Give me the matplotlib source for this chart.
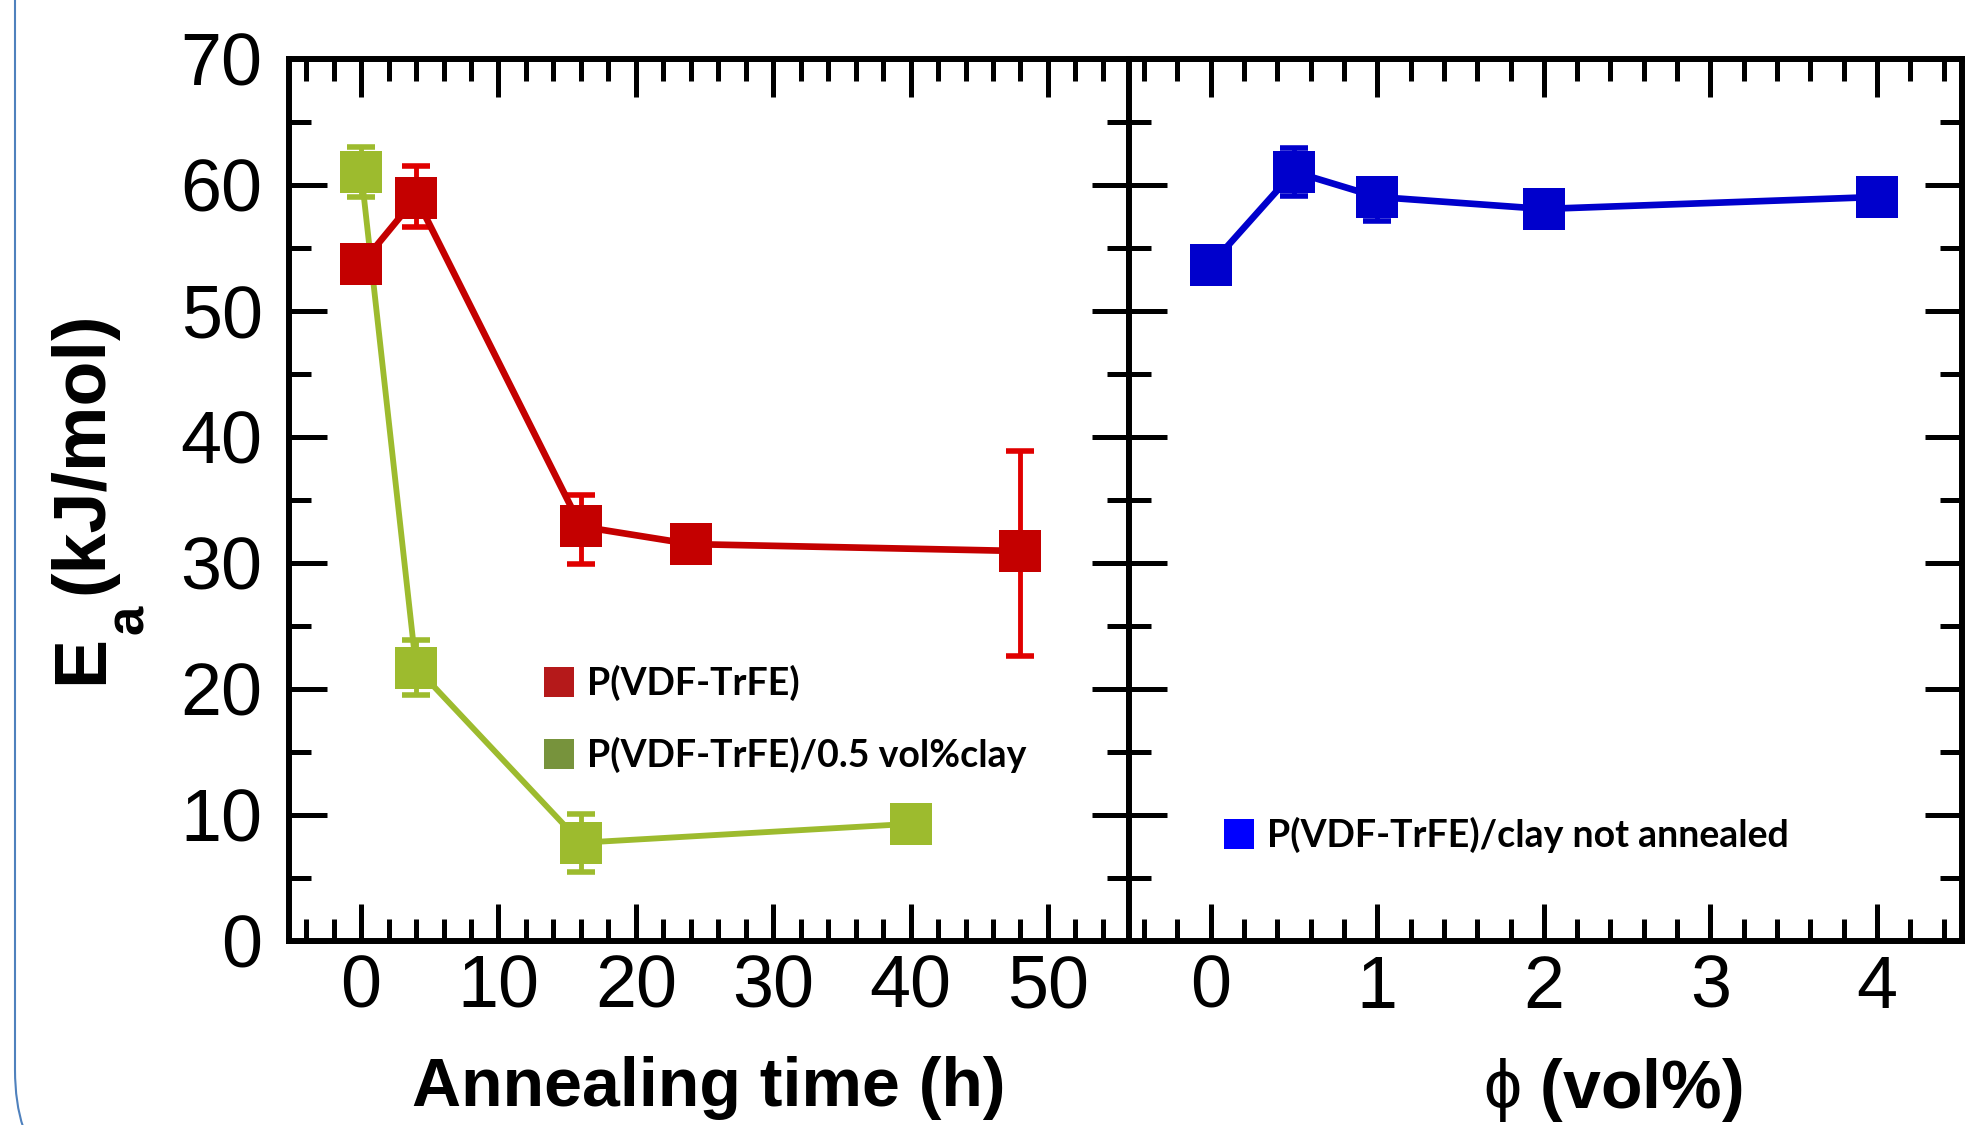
import matplotlib.pyplot as plt
from matplotlib.lines import Line2D
from matplotlib.patches import FancyBboxPatch
from matplotlib.ticker import MultipleLocator
from matplotlib.transforms import IdentityTransform
from matplotlib.font_manager import FontProperties

plt.rcParams['font.family'] = ['Liberation Sans', 'DejaVu Sans']
plt.rcParams['mathtext.fontset'] = 'custom'
plt.rcParams['mathtext.it'] = 'Liberation Sans'
plt.rcParams['mathtext.rm'] = 'Liberation Sans'

# left panel: activation energy vs annealing time
time_neat = [0, 4, 16, 24, 48]
ea_neat = [53.7, 59.0, 32.9, 31.5, 30.95]
err_neat_lo = [0, 2.3, 2.95, 0, 8.3]
err_neat_hi = [0, 2.5, 2.5, 0, 7.95]

time_clay = [0, 4, 16, 40]
ea_clay = [61.05, 21.7, 7.8, 9.3]
err_clay = [2.0, 2.2, 2.3, 0]

# right panel: activation energy vs clay content, not annealed
phi = [0, 0.5, 1, 2, 4]
ea_phi = [53.65, 61.05, 59.05, 58.1, 59.05]
err_phi_lo = [0, 1.9, 1.9, 0, 0]
err_phi_hi = [0, 1.9, 0, 0, 0]

labels_left = ['P(VDF-TrFE)', 'P(VDF-TrFE)/0.5 vol%clay']
label_right = 'P(VDF-TrFE)/clay not annealed'

RED, RED_BAR, RED_LEG = '#C40000', '#E00000', '#B5191A'
GREEN, GREEN_LEG = '#9DBB2E', '#77933C'
BLUE, BLUE_LEG = '#0000CC', '#0000FF'

fig = plt.figure(figsize=(19.72, 11.25), dpi=100)
W, H = 1972, 1125
ax1 = fig.add_axes([289 / W, 1 - 941 / H, (1129 - 289) / W, (941 - 59) / H])
ax2 = fig.add_axes([1129 / W, 1 - 941 / H, (1962 - 1129) / W, (941 - 59) / H])

# green first so the red markers sit on top of it
ax1.errorbar(time_clay, ea_clay, yerr=err_clay, fmt='none', ecolor=GREEN,
             elinewidth=3.5, capsize=10, capthick=4, zorder=2)
ax1.plot(time_clay, ea_clay, '-s', color=GREEN, lw=4.2, ms=30, mew=0, zorder=3)
ax1.errorbar(time_neat, ea_neat, yerr=[err_neat_lo, err_neat_hi], fmt='none',
             ecolor=RED_BAR, elinewidth=3.5, capsize=10, capthick=4, zorder=4)
ax1.plot(time_neat, ea_neat, '-s', color=RED, lw=4.8, ms=30, mew=0, zorder=5)

ax2.errorbar(phi, ea_phi, yerr=[err_phi_lo, err_phi_hi], fmt='none', ecolor=BLUE,
             elinewidth=3.5, capsize=10, capthick=4, zorder=2)
ax2.plot(phi, ea_phi, '-s', color=BLUE, lw=4.8, ms=30, mew=0, zorder=3)

ax1.set_xlim(-5.25, 55.9)
ax2.set_xlim(-0.49, 4.51)
for ax in (ax1, ax2):
    ax.set_ylim(0, 70)
    ax.yaxis.set_major_locator(MultipleLocator(10))
    ax.yaxis.set_minor_locator(MultipleLocator(5))
    for s in ax.spines.values():
        s.set_linewidth(4.3)
    ax.tick_params(which='both', direction='in', top=True, right=True, width=3.6)
    ax.tick_params(which='major', length=27, labelsize=53)
    ax.tick_params(which='minor', length=16)
    ax.tick_params(axis='x', pad=9)
    ax.tick_params(axis='y', pad=19)
ax1.xaxis.set_major_locator(MultipleLocator(10))
ax1.xaxis.set_minor_locator(MultipleLocator(2))
ax2.xaxis.set_major_locator(MultipleLocator(1))
ax2.xaxis.set_minor_locator(MultipleLocator(0.2))
ax2.tick_params(labelleft=False)

lab_font = dict(fontsize=49, fontweight='bold')
ax1.set_xlabel('Annealing time (h)', labelpad=24, **lab_font)
ax2.set_xlabel(r'$\phi$ (vol%)', labelpad=24, x=0.581, **lab_font)

# y label: E with a large, well-dropped subscript a
ylab = dict(rotation=90, rotation_mode='anchor', ha='left', va='baseline',
            fontweight='bold')
fig.text(102 / W, 1 - 684 / H, 'E', fontsize=53, **ylab)
fig.text(143 / W, 1 - 634 / H, 'a', fontsize=38, **ylab)
fig.text(102 / W, 1 - 594 / H, '(kJ/mol)', fontsize=53, **ylab)

leg_font = FontProperties(family=['Lato', 'DejaVu Sans'], weight='bold', size=27)
h_left = [Line2D([], [], ls='', marker='s', ms=22, mew=0, color=c)
          for c in (RED_LEG, GREEN_LEG)]
ax1.legend(h_left, labels_left, loc='upper left', bbox_to_anchor=(0.299, 0.313),
           frameon=False, borderpad=0, borderaxespad=0, handlelength=1.0,
           handletextpad=0.25, labelspacing=0.95, prop=leg_font)
h_right = [Line2D([], [], ls='', marker='s', ms=22, mew=0, color=BLUE_LEG)]
ax2.legend(h_right, [label_right], loc='upper left', bbox_to_anchor=(0.109, 0.141),
           frameon=False, borderpad=0, borderaxespad=0, handlelength=1.0,
           handletextpad=0.25, prop=leg_font)

# slide frame (rounded box, only its left edge falls inside the picture)
frame = FancyBboxPatch((15, -77), 3000, 3000, boxstyle='round,pad=0,rounding_size=132',
                       transform=IdentityTransform(), fill=False, ec='#4F81BD', lw=1.5)
fig.add_artist(frame)

fig.savefig('out.png', dpi=100)
